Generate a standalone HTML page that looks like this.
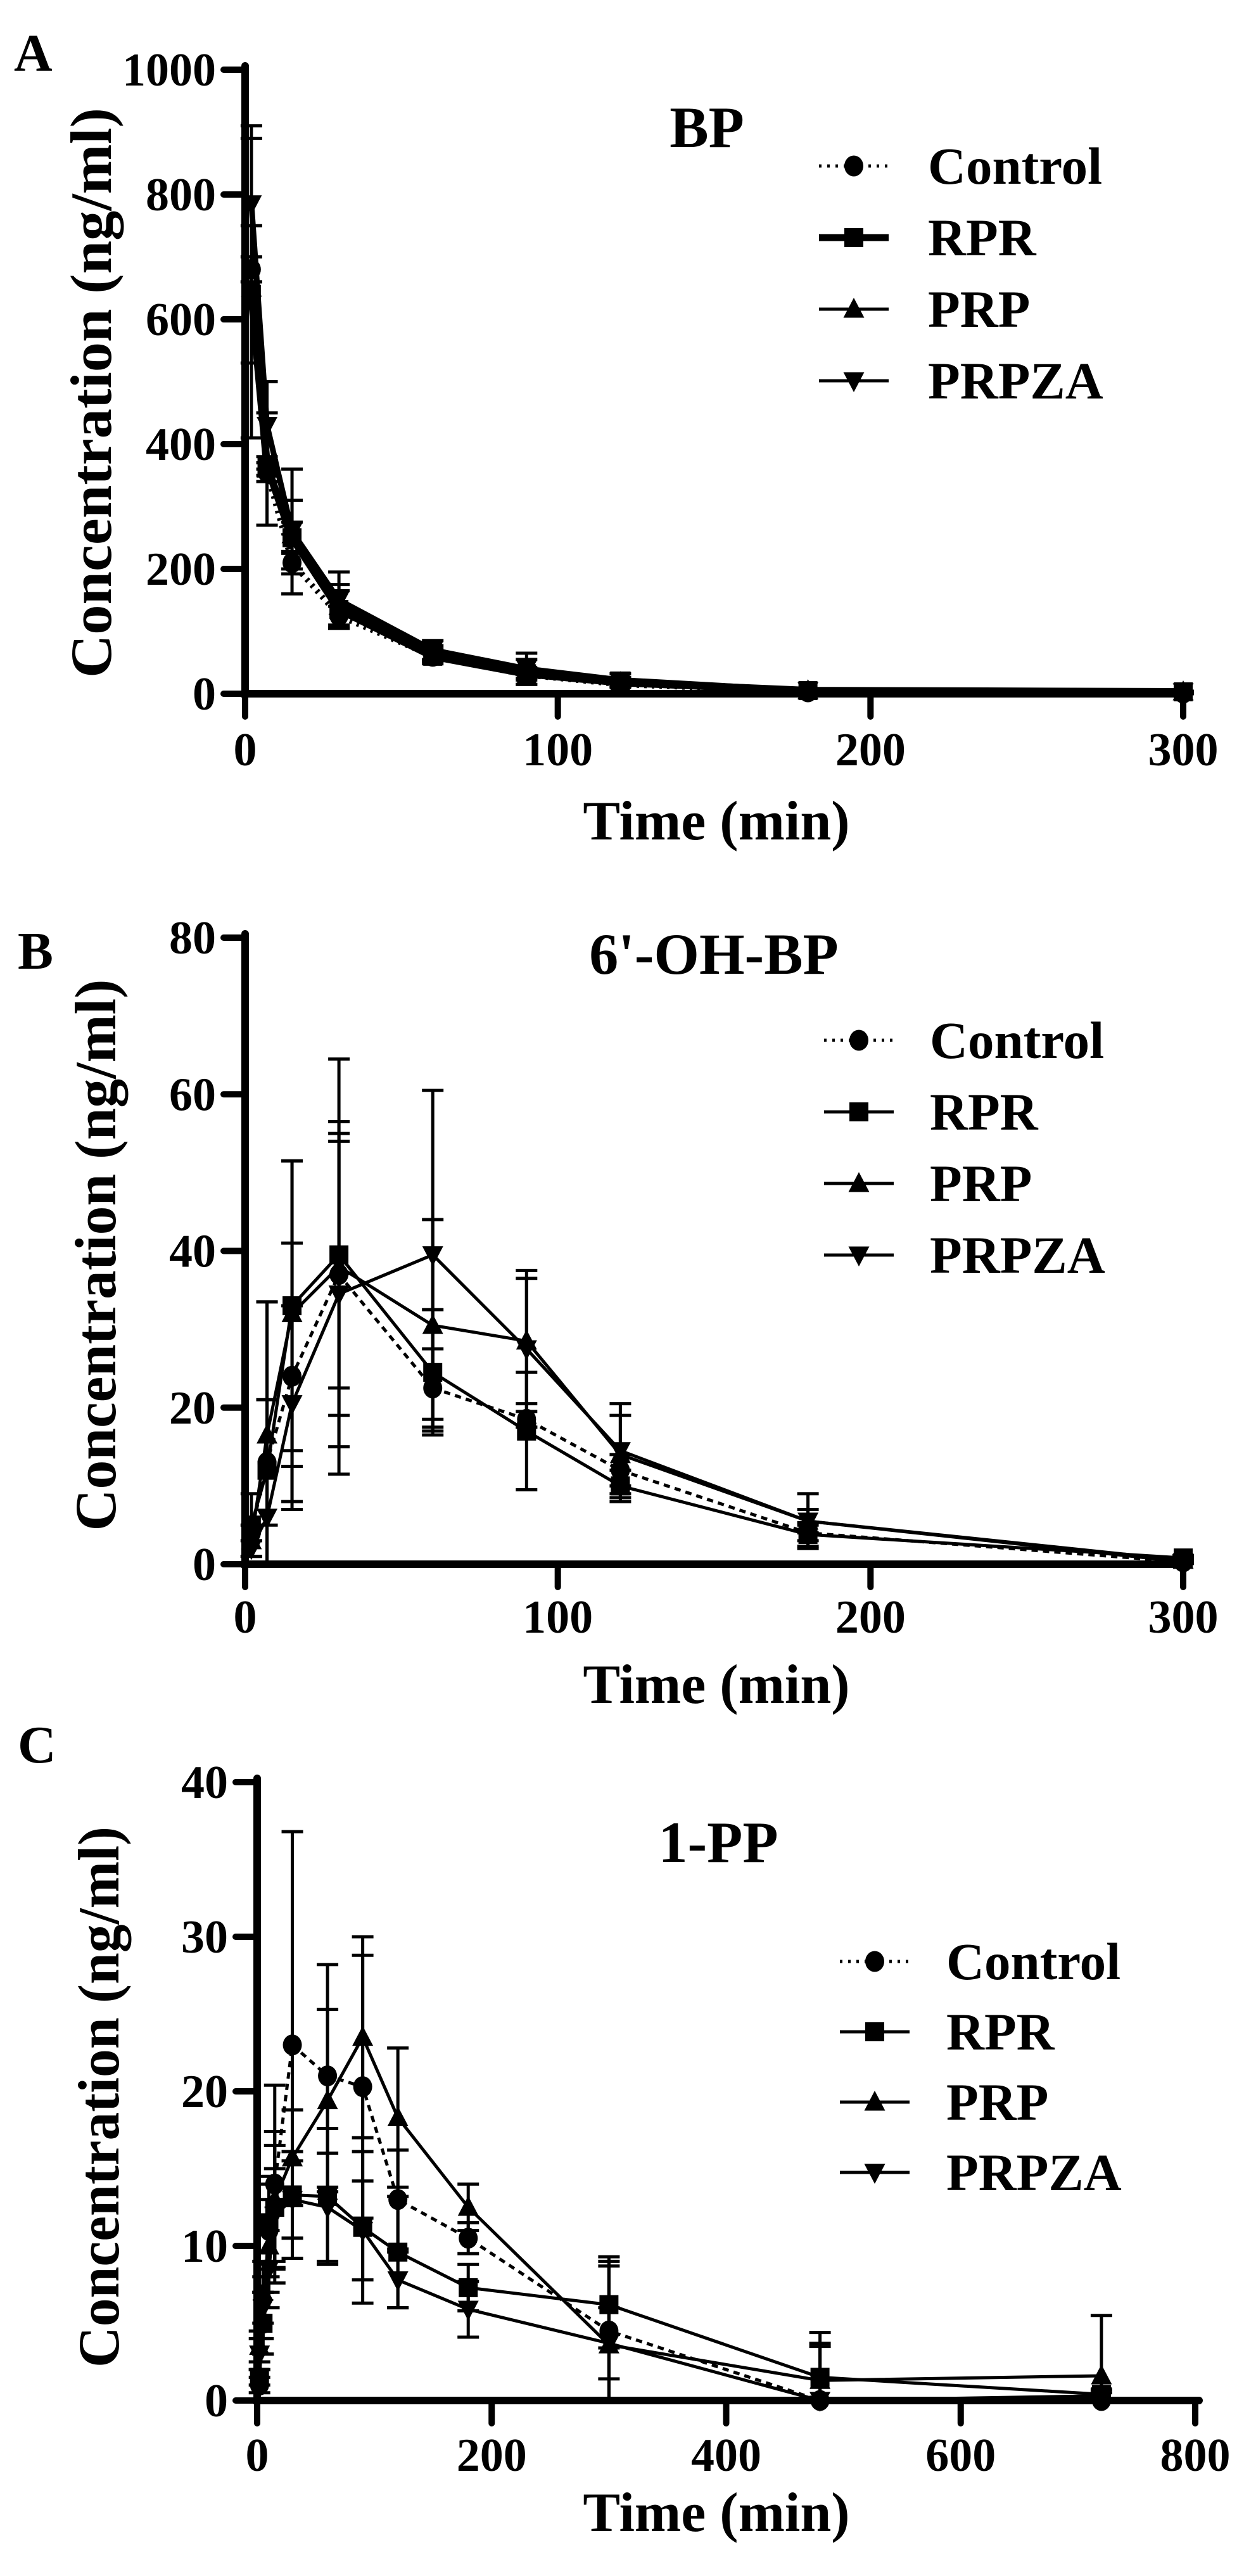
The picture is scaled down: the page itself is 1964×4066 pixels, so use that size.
<!DOCTYPE html>
<html><head><meta charset="utf-8"><style>
html,body{margin:0;padding:0;background:#fff;}
svg{display:block;font-family:"Liberation Serif",serif;font-weight:bold;}
</style></head><body>
<svg id="fig" width="1964" height="4066" viewBox="0 0 1964 4066" xmlns="http://www.w3.org/2000/svg"></svg>
<script>
// Panel A (BP)
const timesA = [2, 7, 15, 30, 60, 90, 120, 180, 300];
const controlA = [680, 355, 210, 125, 60, 30, 15, 3, 1];
const rprA = [640, 365, 250, 135, 60, 32, 18, 5, 3];
const prpA = [650, 360, 255, 140, 65, 35, 18, 5, 3];
const prpzaA = [785, 430, 260, 150, 70, 40, 22, 5, 3];
const controlAsd = [20, 15, 18, 15, 8, 5, 3, 1, 1];
const rprAsd = [110, 15, 25, 30, 12, 10, 6, 2, 1];
const prpAsd = [240, 90, 55, 35, 12, 20, 8, 2, 1];
const prpzaAsd = [125, 70, 100, 45, 15, 25, 10, 2, 1];
const yTicksA = [0, 200, 400, 600, 800, 1000];
const xTicksAB = [0, 100, 200, 300];
// Panel B (6'-OH-BP)
const timesB = [2, 7, 15, 30, 60, 90, 120, 180, 300];
const controlB = [4, 13, 24, 37, 22.5, 18.5, 12, 4, 0.3];
const rprB = [5, 12, 33, 39.5, 24.5, 17, 10, 3.8, 0.8];
const prpB = [3, 16.5, 32, 38, 30.5, 28.5, 14, 5.5, 0.5];
const prpzaB = [2, 6, 20.5, 34.5, 39.5, 27.5, 14.5, 5.5, 0.3];
const controlBsd = [1, 8, 17, 18, 5, 1, 2, 1, 0.2];
const rprBsd = [4, 21.5, 18.5, 17, 8, 7.5, 2, 1.5, 0.3];
const prpBsd = [2, 17, 19.5, 26.5, 13.5, 8, 5, 1.5, 0.3];
const prpzaBsd = [1, 15, 12.5, 19.5, 21, 10, 6, 3.5, 0.2];
const yTicksB = [0, 20, 40, 60, 80];
// Panel C (1-PP)
const timesC = [2, 5, 10, 15, 30, 60, 90, 120, 180, 300, 480, 720];
const controlC = [1, 5, 11, 14, 23, 21, 20.3, 13, 10.5, 4.5, 0, 0];
const rprC = [1.5, 5, 11.5, 12.5, 13.3, 13.2, 11.2, 9.6, 7.3, 6.2, 1.5, 0.4];
const prpC = [3.5, 7, 10, 13, 15.7, 19.4, 23.5, 18.3, 12.5, 3.6, 1.3, 1.6];
const prpzaC = [3, 6, 8.5, 12, 13, 12.5, 11, 7.8, 5.9, 3.7, 0, 0.3];
const controlCsd = [0.5, 2, 3, 6.4, 13.8, 7.2, 8.5, 3.2, 1, 4.8, 0, 0];
const rprCsd = [0.5, 2, 3, 4, 2.8, 4.4, 4.9, 3.6, 1.5, 2.8, 2.9, 0.3];
const prpCsd = [1, 2, 3, 4.4, 3.1, 5.9, 6.5, 4.5, 1.5, 5.1, 2.2, 3.9];
const prpzaCsd = [1, 2, 2.5, 3, 2.5, 3.5, 3.2, 1.8, 1.8, 2.3, 3.7, 0.2];
const yTicksC = [0, 10, 20, 30, 40];
const xTicksC = [0, 200, 400, 600, 800];
const seriesNames = ["Control", "RPR", "PRP", "PRPZA"];

const NS = "http://www.w3.org/2000/svg";
const svg = document.getElementById("fig");
function mk(tag, attrs, parent) {
  const e = document.createElementNS(NS, tag);
  for (const k in attrs) e.setAttribute(k, attrs[k]);
  (parent || svg).appendChild(e);
  return e;
}
function marker(g, kind, cx, cy, s) {
  let m;
  if (kind === 0) m = mk("ellipse", {cx: cx, cy: cy, rx: s * 0.5, ry: s * 0.55, fill: "#000"}, g);
  else if (kind === 1) m = mk("rect", {x: cx - s / 2, y: cy - s / 2, width: s, height: s, fill: "#000"}, g);
  else if (kind === 2) m = mk("polygon", {points: `${cx},${cy - s * 0.6} ${cx - s * 0.55},${cy + s * 0.45} ${cx + s * 0.55},${cy + s * 0.45}`, fill: "#000"}, g);
  else m = mk("polygon", {points: `${cx},${cy + s * 0.6} ${cx - s * 0.55},${cy - s * 0.45} ${cx + s * 0.55},${cy - s * 0.45}`, fill: "#000"}, g);
  return m;
}

function panel(p) {
  const g = mk("g", {});
  
  
  const xs = v => p.x0 + (v - p.xmin) / (p.xmax - p.xmin) * (p.x1 - p.x0);
  const ys = v => p.y0 - (v - p.ymin) / (p.ymax - p.ymin) * (p.y0 - p.y1);
  // panel letter
  const L = mk("text", {x: p.letterX, y: p.letterY, "font-size": 84}, g);
  L.textContent = p.letter;
  
  
  // title
  const T = mk("text", {x: p.titleX, y: p.titleY, "font-size": 92, "text-anchor": "middle"}, g);
  T.textContent = p.title;
  
  
  // series
  const lw = p.lineW;
  p.series.forEach((vals, si) => {
    const sg = mk("g", {}, g);
    
    
    // error bars
    vals.forEach((v, i) => {
      const sd = p.sds[si][i];
      if (sd <= 0) return;
      const x = xs(p.times[i]);
      const top = ys(v + sd), bot = ys(Math.max(v - sd, 0));
      const eb = mk("path", {d: `M${x},${bot}V${top}M${x - 17},${top}H${x + 17}M${x - 17},${bot}H${x + 17}`, stroke: "#000", "stroke-width": 5, fill: "none"}, sg);
      
      
    });
    const d = vals.map((v, i) => (i ? "L" : "M") + xs(p.times[i]) + "," + ys(v)).join("");
    const ln = mk("path", {d: d, stroke: "#000", "stroke-width": (si === 1 && p.boldRPR) ? lw + 3 : lw, fill: "none", "stroke-linejoin": "round"}, sg);
    if (si === 0) ln.setAttribute("stroke-dasharray", p.dash);
    
    
    vals.forEach((v, i) => {
      const m = marker(sg, si, xs(p.times[i]), ys(v), 30);
      
      
    });
  });
  // axes
  const ax = mk("path", {d: `M${p.x0},${p.y1 - 6}V${p.y0}H${p.x1 + 6}`, stroke: "#000", "stroke-width": 12, fill: "none", "stroke-linecap": "round"}, g);
  
  
  p.yTicks.forEach(t => {
    const y = ys(t);
    const tk = mk("line", {x1: p.x0 - 34, x2: p.x0, y1: y, y2: y, stroke: "#000", "stroke-width": 10, "stroke-linecap": "round"}, g);
    
    
    const tl = mk("text", {x: p.x0 - 46, y: y + 25, "font-size": 74, "text-anchor": "end"}, g);
    tl.textContent = t;
    
    
  });
  p.xTicks.forEach(t => {
    const x = xs(t);
    const tk = mk("line", {x1: x, x2: x, y1: p.y0, y2: p.y0 + 36, stroke: "#000", "stroke-width": 10, "stroke-linecap": "round"}, g);
    
    
    const tl = mk("text", {x: x, y: p.xLabY, "font-size": 74, "text-anchor": "middle"}, g);
    tl.textContent = t;
    
    
  });
  const xt = mk("text", {x: 1131, y: p.xTitleY, "font-size": 88, "text-anchor": "middle"}, g);
  xt.textContent = "Time (min)";
  
  
  const yt = mk("text", {x: 0, y: 0, "font-size": 92, "text-anchor": "middle", textLength: p.yTitleLen, lengthAdjust: "spacingAndGlyphs", transform: `translate(${p.yTitleX + 32},${p.yTitleY}) rotate(-90)`}, g);
  yt.textContent = "Concentration (ng/ml)";
  
  
  // legend
  const lg = mk("g", {}, g);
  
  
  seriesNames.forEach((n, i) => {
    const base = p.legY + i * p.legStep;
    const cy = base - 28;
    const e = mk("g", {}, lg);
    
    
    const l = mk("line", {x1: p.legX - 55, x2: p.legX + 55, y1: cy, y2: cy, stroke: "#000", "stroke-width": (i === 1 && p.boldRPR) ? 11 : 5}, e);
    if (i === 0) l.setAttribute("stroke-dasharray", "4 9");
    marker(e, i, p.legX, cy, 30);
    const tx = mk("text", {x: p.legTextX, y: base, "font-size": 83}, e);
    tx.textContent = n;
  });
}

panel({name: "panel-a-bp", letter: "A", letterX: 22, letterY: 112, title: "BP", titleX: 1116, titleY: 232,
  times: timesA, series: [controlA, rprA, prpA, prpzaA], sds: [controlAsd, rprAsd, prpAsd, prpzaAsd],
  xmin: 0, xmax: 300, ymin: 0, ymax: 1000, x0: 387, x1: 1868, y0: 1095, y1: 110,
  yTicks: yTicksA, xTicks: xTicksAB, xLabY: 1208, xTitleY: 1325, yTitleX: 143, yTitleY: 620, yTitleLen: 900,
  legX: 1348, legTextX: 1465, legY: 290, legStep: 113, lineW: 9, boldRPR: true, dash: "4 8"});
panel({name: "panel-b-6oh-bp", letter: "B", letterX: 28, letterY: 1529, title: "6'-OH-BP", titleX: 1127, titleY: 1537,
  times: timesB, series: [controlB, rprB, prpB, prpzaB], sds: [controlBsd, rprBsd, prpBsd, prpzaBsd],
  xmin: 0, xmax: 300, ymin: 0, ymax: 80, x0: 387, x1: 1868, y0: 2469, y1: 1480,
  yTicks: yTicksB, xTicks: xTicksAB, xLabY: 2577, xTitleY: 2688, yTitleX: 150, yTitleY: 1981, yTitleLen: 871,
  legX: 1356, legTextX: 1468, legY: 1670, legStep: 113, lineW: 5, boldRPR: false, dash: "10 8"});
panel({name: "panel-c-1pp", letter: "C", letterX: 28, letterY: 2782, title: "1-PP", titleX: 1134, titleY: 2939,
  times: timesC, series: [controlC, rprC, prpC, prpzaC], sds: [controlCsd, rprCsd, prpCsd, prpzaCsd],
  xmin: 0, xmax: 800, ymin: 0, ymax: 40, x0: 406, x1: 1887, y0: 3789, y1: 2813,
  yTicks: yTicksC, xTicks: xTicksC, xLabY: 3900, xTitleY: 3995, yTitleX: 155, yTitleY: 3310, yTitleLen: 854,
  legX: 1381, legTextX: 1494, legY: 3124, legStep: 111, lineW: 5, boldRPR: false, dash: "10 8"});
</script>
</body></html>
